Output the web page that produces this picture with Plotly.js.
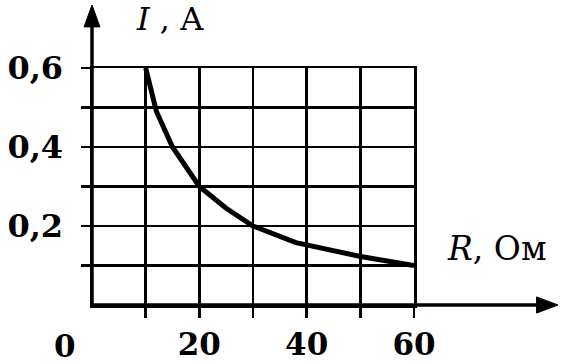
<!DOCTYPE html>
<html>
<head>
<meta charset="utf-8">
<script src="https://cdn.plot.ly/plotly-3.0.1.min.js"></script>
<style>html,body{margin:0;padding:0;background:#fff;}</style>
</head>
<body>
<div id="chart" style="width:561px;height:364px;"></div>
<script>
// Data
var resistance = [10, 12, 15, 20, 25, 30, 38, 50, 60];          // R, Ом
var current    = [0.6, 0.49, 0.4, 0.3, 0.245, 0.2, 0.158, 0.123, 0.1]; // I, A

var xTickVals  = [10, 20, 30, 40, 50, 60];
var xTickText  = ["", "20", "", "40", "", "60"];
var yTickVals  = [0.1, 0.2, 0.3, 0.4, 0.5, 0.6];
var yTickText  = ["", "0,2", "", "0,4", "", "0,6"];

var FONT = "'DejaVu Serif', 'Liberation Serif', serif";

var trace = {
  x: resistance,
  y: current,
  mode: "lines",
  type: "scatter",
  line: {color: "#000", width: 5},
  hoverinfo: "skip",
  cliponaxis: false
};

var layout = {
  width: 561, height: 364,
  margin: {l: 92, r: 3, t: 5, b: 59, pad: 0},
  paper_bgcolor: "#fff",
  plot_bgcolor: "rgba(0,0,0,0)",
  showlegend: false,
  font: {family: FONT, color: "#000", size: 30},
  xaxis: {
    domain: [0, 0.691],
    range: [0, 60],
    tickmode: "array",
    tickvals: xTickVals,
    ticktext: xTickText,
    ticks: "outside", ticklen: 10, tickwidth: 2.5, tickcolor: "#000",
    ticklabelstandoff: 0,
    showgrid: true, gridcolor: "#000", gridwidth: 2.5,
    zeroline: false,
    showline: true, mirror: true, linecolor: "#000", linewidth: 2.5,
    tickfont: {family: FONT, size: 31, color: "#000", weight: "bold"},
    fixedrange: true
  },
  yaxis: {
    domain: [0, 0.79],
    range: [0, 0.6],
    tickmode: "array",
    tickvals: yTickVals,
    ticktext: yTickText,
    ticks: "outside", ticklen: 9, tickwidth: 2.5, tickcolor: "#000",
    ticklabelstandoff: 11,
    showgrid: true, gridcolor: "#000", gridwidth: 2.5,
    zeroline: false,
    showline: true, mirror: true, linecolor: "#000", linewidth: 2.5,
    tickfont: {family: FONT, size: 32, color: "#000", weight: "bold"},
    fixedrange: true
  },
  shapes: [
    {type: "line", xref: "paper", yref: "paper", x0: 0, x1: 0.97, y0: 0, y1: 0,
     line: {color: "#000", width: 3.5}},
    {type: "path", xref: "paper", yref: "paper",
     path: "M 1,0 L 0.954,0.027 L 0.954,-0.027 Z",
     fillcolor: "#000", line: {color: "#000", width: 1}},
    {type: "line", xref: "paper", yref: "paper", x0: 0, x1: 0, y0: 0, y1: 0.96,
     line: {color: "#000", width: 3.5}},
    {type: "path", xref: "paper", yref: "paper",
     path: "M 0,1 L -0.017,0.927 L 0.017,0.927 Z",
     fillcolor: "#000", line: {color: "#000", width: 1}}
  ],
  annotations: [
    {xref: "paper", yref: "paper", x: 0.167, y: 0.955, xanchor: "center", yanchor: "middle",
     text: "<i>I</i> , A", showarrow: false, font: {family: FONT, size: 32, color: "#000"}},
    {xref: "paper", yref: "paper", x: 0.87, y: 0.19, xanchor: "center", yanchor: "middle",
     text: "<i>R</i>, Ом", showarrow: false, font: {family: FONT, size: 33, color: "#000"}},
    {xref: "paper", yref: "paper", x: -0.058, y: -0.135, xanchor: "center", yanchor: "middle",
     text: "0", showarrow: false, font: {family: FONT, size: 31, color: "#000", weight: "bold"}}
  ]
};

Plotly.newPlot("chart", [trace], layout, {staticPlot: true, displayModeBar: false});
</script>
</body>
</html>
